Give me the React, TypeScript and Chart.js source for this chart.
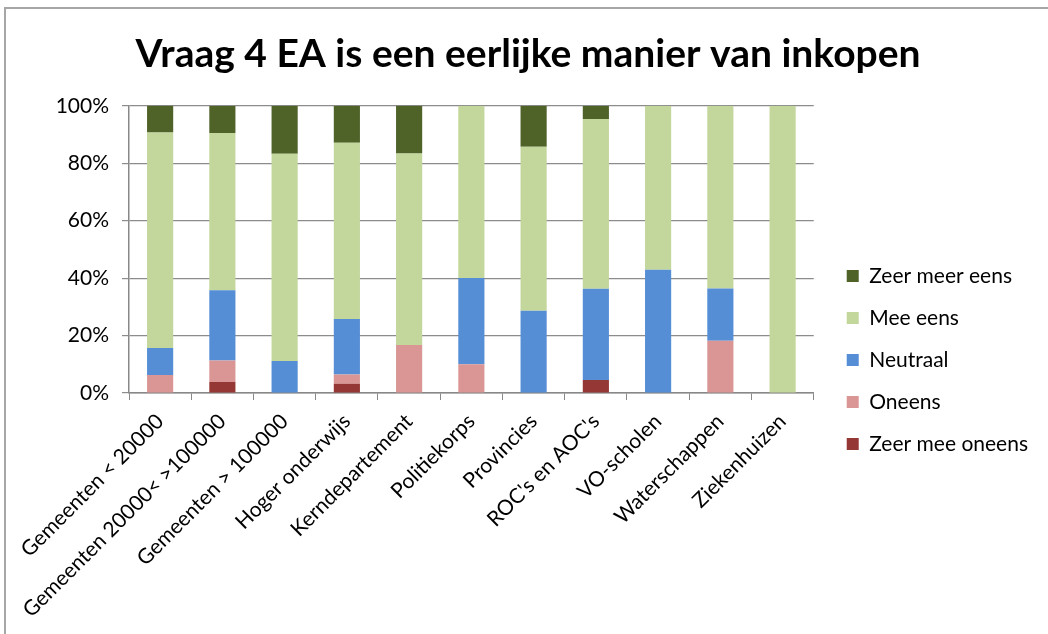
import React, { useEffect, useRef } from "react";
import { Chart, registerables } from "chart.js";

Chart.register(...registerables);

const categories = [
  "Gemeenten < 20000",
  "Gemeenten 20000< >100000",
  "Gemeenten > 100000",
  "Hoger onderwijs",
  "Kerndepartement",
  "Politiekorps",
  "Provincies",
  "ROC's en AOC's",
  "VO-scholen",
  "Waterschappen",
  "Ziekenhuizen",
];

const zeerMeeOneens = [0, 3.8, 0, 3.2, 0, 0, 0, 4.5, 0, 0, 0];
const oneens = [6.3, 7.5, 0, 3.2, 16.7, 10, 0, 0, 0, 18.2, 0];
const neutraal = [9.4, 24.5, 11.1, 19.4, 0, 30, 28.6, 31.8, 42.9, 18.2, 0];
const meeEens = [75, 54.7, 72.2, 61.3, 66.7, 60, 57.1, 59.1, 57.1, 63.6, 100];
const zeerMeerEens = [9.4, 9.4, 16.7, 12.9, 16.7, 0, 14.3, 4.5, 0, 0, 0];

const yTicks = [0, 20, 40, 60, 80, 100];

const FONT = "Lato, 'Liberation Sans', sans-serif";

const nudge = {
  id: "nudge",
  afterLayout(chart: any) {
    const l = chart.legend;
    if (l) {
      l.left += 12;
      l.right += 12;
      l.top += 43;
      l.bottom += 43;
    }
    const t = chart.titleBlock;
    if (t) {
      t.left += 15;
      t.right += 15;
    }
  },
};

export default function App() {
  const ref = useRef<HTMLCanvasElement | null>(null);

  useEffect(() => {
    if (!ref.current) return;
    const chart = new Chart(ref.current, {
      type: "bar",
      plugins: [nudge],
      data: {
        labels: categories,
        datasets: [
          { label: "Zeer mee oneens", data: zeerMeeOneens, backgroundColor: "#953735" },
          { label: "Oneens", data: oneens, backgroundColor: "#D99694" },
          { label: "Neutraal", data: neutraal, backgroundColor: "#558ED5" },
          { label: "Mee eens", data: meeEens, backgroundColor: "#C3D69B" },
          { label: "Zeer meer eens", data: zeerMeerEens, backgroundColor: "#4F6228" },
        ],
      },
      options: {
        animation: false,
        responsive: false,
        maintainAspectRatio: false,
        layout: { padding: { left: 0, right: 22, top: 0, bottom: 0 } },
        datasets: { bar: { categoryPercentage: 1, barPercentage: 0.42, borderWidth: 0 } },
        plugins: {
          title: {
            display: true,
            text: "Vraag 4 EA is een eerlijke manier van inkopen",
            color: "#000",
            font: { family: FONT, size: 39, weight: "bold" },
            padding: { top: 31, bottom: 28 },
          },
          legend: {
            position: "right",
            reverse: true,
            labels: {
              color: "#000",
              font: { family: FONT, size: 21 },
              boxWidth: 12,
              boxHeight: 12,
              padding: 21,
            },
          },
          tooltip: { enabled: false },
        },
        scales: {
          x: {
            stacked: true,
            offset: true,
            afterFit: (scale: any) => {
              scale.height = 241;
            },
            grid: {
              offset: true,
              drawOnChartArea: false,
              drawTicks: true,
              tickLength: 7,
              color: "#888",
            },
            border: { color: "#888", width: 1.5 },
            ticks: {
              color: "#000",
              font: { family: FONT, size: 21 },
              minRotation: 45,
              maxRotation: 45,
              autoSkip: false,
              padding: 9,
            },
          },
          y: {
            stacked: true,
            min: 0,
            max: 100,
            afterBuildTicks: (scale: any) => {
              scale.ticks = yTicks.map((v) => ({ value: v }));
            },
            afterFit: (scale: any) => {
              scale.width = 129;
            },
            grid: { color: "#8c8c8c", tickLength: 7, lineWidth: 1.2 },
            border: { color: "#888", width: 1.5 },
            ticks: {
              color: "#000",
              font: { family: FONT, size: 21 },
              padding: 13,
              callback: (v: any) => v + "%",
            },
          },
        },
      },
    });
    return () => chart.destroy();
  }, []);

  return (
    <div style={{ position: "fixed", left: 0, top: 0, width: 1048, height: 634, background: "#fff", overflow: "hidden" }}>
      <canvas ref={ref} width={1048} height={634} style={{ position: "absolute", left: 0, top: 0 }} />
      <div
        style={{
          position: "absolute",
          left: 4,
          top: 7,
          right: -10,
          bottom: -10,
          borderLeft: "2px solid #a6a6a6",
          borderTop: "2px solid #a6a6a6",
          pointerEvents: "none",
        }}
      />
    </div>
  );
}
